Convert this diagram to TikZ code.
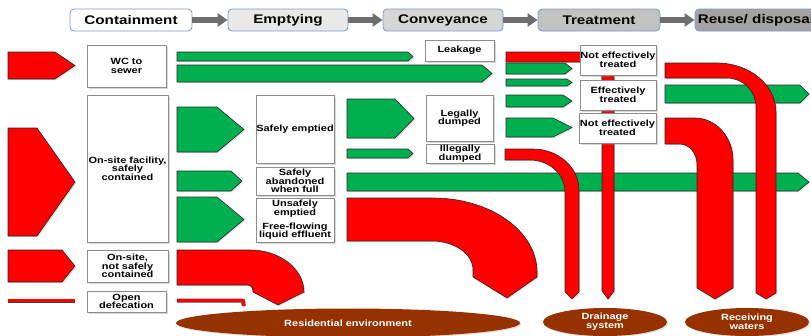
\documentclass[tikz,border=0pt]{standalone}
\usepackage{fontspec}
\setmainfont{Liberation Sans}[FakeStretch=1.22]
\usetikzlibrary{shapes.geometric,shadows,arrows.meta}
\definecolor{gr}{HTML}{00B050}
\definecolor{rd}{HTML}{FF0000}
\definecolor{br}{HTML}{963200}
\definecolor{hb}{HTML}{7F98C6}
\definecolor{ha}{HTML}{6E6E6E}
\newcommand\pentR[6]{\path[#1] (#2,#3) -- (#5,#3) -- (#6,{(#3+#4)/2}) -- (#5,#4) -- (#2,#4) -- cycle;}
\tikzset{
 shp/.style={draw=black!85, line width=0.6pt, line join=miter, drop shadow={shadow xshift=1.2pt, shadow yshift=-1.2pt, opacity=0.25}},
 gshape/.style={shp, fill=gr},
 rshape/.style={shp, fill=rd},
 box/.style={draw=black!45, line width=0.7pt, fill=white, align=center, font=\bfseries\fontsize{9}{8.6}\selectfont, inner sep=0pt, drop shadow={shadow xshift=1.5pt, shadow yshift=-1.5pt, opacity=0.3}},
 hdr/.style={draw=hb, line width=0.8pt, rounded corners=4pt, minimum width=122pt, minimum height=22pt, inner sep=0pt, font=\bfseries\fontsize{12.5}{14}\selectfont},
 harrow/.style={draw=ha, line width=5.5pt, -{Triangle[length=10pt,width=13pt]}},
 ell/.style={ellipse, fill=br, text=white, inner sep=0pt, align=center, font=\bfseries\fontsize{9}{9}\selectfont, drop shadow={shadow xshift=1.2pt, shadow yshift=-1.2pt, opacity=0.25}},
 thinred/.style={draw=black!75, line width=0.7pt, double=rd, double distance=2.6pt}
}
\begin{document}
\begin{tikzpicture}[x=1pt,y=-1pt]
\useasboundingbox (0,0) rectangle (811,335);
\clip (0,0) rectangle (811,335);
% header
\node[hdr, fill=white] (h1) at (131,20) {Containment};
\node[hdr, fill=black!9, minimum width=120pt] (h2) at (288,20) {Emptying};
\node[hdr, fill=black!16, minimum width=120pt] (h3) at (443,20) {Conveyance};
\node[hdr, fill=black!24] (h4) at (599,20) {Treatment};
\node[hdr, fill=black!36] (h5) at (756,20) {Reuse/ disposal};
\draw[harrow] (h1) -- (h2);
\draw[harrow] (h2) -- (h3);
\draw[harrow] (h3) -- (h4);
\draw[harrow] (h4) -- (h5);
% containment red arrows
\pentR{rshape}{8}{52}{79}{55}{75}
\pentR{rshape}{8}{128}{236}{37}{75}
\pentR{rshape}{8}{250}{282}{62}{75}
\path[thinred] (8,300.5) -- (75,300.5);
% green arrows
\pentR{gshape}{177}{52}{61}{408}{413}
\pentR{gshape}{177}{65}{82}{482}{492}
\pentR{gshape}{506}{63}{74}{565}{572}
\pentR{gshape}{506}{79}{86}{567}{572}
\pentR{gshape}{506}{95}{107}{563}{572}
\pentR{gshape}{506}{118}{137}{553}{572}
\pentR{gshape}{177}{107}{152}{217}{244}
\pentR{gshape}{177}{171}{191}{231}{242}
\pentR{gshape}{177}{197}{242}{217}{244}
\pentR{gshape}{347}{99}{138}{395}{414}
\pentR{gshape}{347}{149}{158}{408}{413}
\pentR{gshape}{665}{85}{103}{800}{809}
\pentR{gshape}{347}{173}{191}{798}{809}
% red flows
\path[rshape] (506,52) -- (584,52) .. controls (600,52) and (614,62) .. (614,78) -- (614,291) -- (608,299) -- (602,291) -- (602,80) .. controls (602,69) and (595,62) .. (584,62) -- (506,62) -- cycle;
\path[rshape] (665,63) -- (717,63) .. controls (749.6,63) and (776,84.9) .. (776,112) -- (776,293) -- (766,299) -- (756,293) -- (756,107) .. controls (756,91) and (743,78) .. (727,78) -- (665,78) -- cycle;
\path[rshape] (665,118) -- (695,118) .. controls (716,118) and (733,137) .. (733,160) -- (733,288) -- (715,299) -- (697,288) -- (697,165) .. controls (697,153.4) and (689.4,144) .. (680,144) -- (665,144) -- cycle;
\path[rshape] (505,149) -- (533,149) .. controls (558.4,149) and (579,167.4) .. (579,190) -- (579,292) -- (572,299) -- (565,292) -- (565,192) .. controls (565,174.3) and (549.3,160) .. (530,160) -- (505,160) -- cycle;
\path[rshape] (347,198) -- (433,198) .. controls (490.4,198) and (537,231.1) .. (537,272) -- (537,277) -- (507,298) -- (473,277) -- (473,270) .. controls (473,254) and (454.6,241) .. (432,241) -- (347,241) -- cycle;
\path[rshape] (177,250) -- (250,250) .. controls (279.8,250) and (304,268.8) .. (304,292) -- (278,305) -- (253,292) .. controls (253,288) and (251,285) .. (248,285) -- (177,285) -- cycle;
\path[thinred] (177,300.5) -- (240,300.5) .. controls (243.5,300.5) .. (243.5,304) -- (243.5,306);
% boxes
\node[box, minimum width=79pt, minimum height=42pt] (wc) at (126.5,66) {WC to\\sewer};
\node[box, minimum width=69pt, minimum height=21pt] (leak) at (459.5,50.5) {Leakage};
\node[box, minimum width=81pt, minimum height=147pt] (onsite) at (127.5,168.5) {On-site facility,\\safely\\contained};
\node[box, minimum width=81pt, minimum height=32pt] (notsafe) at (127.5,266) {On-site,\\not safely\\contained};
\node[box, minimum width=79pt, minimum height=21pt] (opendef) at (126.5,301.5) {Open\\defecation};
\node[box, minimum width=78pt, minimum height=68pt] (safeemp) at (295,129) {Safely emptied};
\node[box, minimum width=78pt, minimum height=28pt] (aband) at (295,181) {Safely\\abandoned\\when full};
\node[box, minimum width=78pt, minimum height=44pt] (unsafe) at (295,220) {Unsafely\\emptied\\[5pt]Free-flowing\\liquid effluent};
\node[box, minimum width=67pt, minimum height=46pt] (legal) at (459.5,118) {Legally\\dumped};
\node[box, minimum width=68pt, minimum height=19pt] (illegal) at (460,153.5) {Illegally\\dumped};
\node[box, minimum width=76pt, minimum height=30pt] (ne1) at (618,60) {Not effectively\\treated};
\node[box, minimum width=76pt, minimum height=30pt] (et) at (618,95) {Effectively\\treated};
\node[box, minimum width=77pt, minimum height=30pt] (ne2) at (617.5,128) {Not effectively\\treated};
% ellipses
\node[ell, minimum width=344pt, minimum height=29pt] (res) at (348,323) {Residential environment};
\node[ell, minimum width=124pt, minimum height=28pt] (drain) at (605,322) {Drainage\\system};
\node[ell, minimum width=124pt, minimum height=28pt] (recv) at (747,322) {Receiving\\waters};
\end{tikzpicture}
\end{document}
